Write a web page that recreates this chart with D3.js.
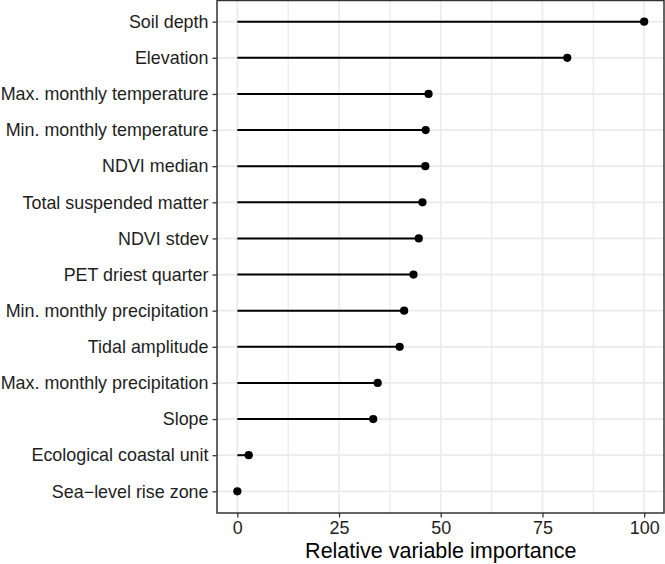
<!DOCTYPE html>
<html>
<head>
<meta charset="utf-8">
<script src="https://cdn.jsdelivr.net/npm/d3@7"></script>
<style>
  html, body { margin: 0; padding: 0; background: #fff; }
  svg { display: block; font-family: "Liberation Sans", Arial, Helvetica, sans-serif; }
</style>
</head>
<body>
<svg id="chart" width="665" height="564"></svg>
<script>
const variables = [
  "Soil depth",
  "Elevation",
  "Max. monthly temperature",
  "Min. monthly temperature",
  "NDVI median",
  "Total suspended matter",
  "NDVI stdev",
  "PET driest quarter",
  "Min. monthly precipitation",
  "Tidal amplitude",
  "Max. monthly precipitation",
  "Slope",
  "Ecological coastal unit",
  "Sea\u2212level rise zone"
];
const importance = [100, 81.1, 47.0, 46.3, 46.2, 45.5, 44.6, 43.3, 41.0, 39.9, 34.5, 33.4, 2.8, 0];
const xTicks = [0, 25, 50, 75, 100];
const xMinor = [12.5, 37.5, 62.5, 87.5];
const xTitle = "Relative variable importance";

const svg = d3.select("#chart");
const panel = { left: 217, right: 664.5, top: 0, bottom: 513 };

const x = d3.scaleLinear().domain([-5, 105]).range([panel.left, panel.right]);
const y = d3.scalePoint().domain(variables).range([panel.top, panel.bottom]).padding(0.6);

const g = svg.append("g");

g.append("rect")
  .attr("x", panel.left).attr("y", panel.top)
  .attr("width", panel.right - panel.left).attr("height", panel.bottom - panel.top)
  .attr("fill", "#ffffff");

g.selectAll(".minor").data(xMinor).enter().append("line")
  .attr("x1", d => x(d)).attr("x2", d => x(d))
  .attr("y1", panel.top).attr("y2", panel.bottom)
  .attr("stroke", "#ebebeb").attr("stroke-width", 1.3);

g.selectAll(".majorx").data(xTicks).enter().append("line")
  .attr("x1", d => x(d)).attr("x2", d => x(d))
  .attr("y1", panel.top).attr("y2", panel.bottom)
  .attr("stroke", "#ebebeb").attr("stroke-width", 1.7);

g.selectAll(".majory").data(variables).enter().append("line")
  .attr("x1", panel.left).attr("x2", panel.right)
  .attr("y1", d => y(d)).attr("y2", d => y(d))
  .attr("stroke", "#ebebeb").attr("stroke-width", 1.7);

const data = variables.map((v, i) => ({ v, val: importance[i] }));
g.selectAll(".seg").data(data).enter().append("line")
  .attr("x1", x(0)).attr("x2", d => x(d.val))
  .attr("y1", d => y(d.v)).attr("y2", d => y(d.v))
  .attr("stroke", "#000").attr("stroke-width", 2);

g.selectAll(".pt").data(data).enter().append("circle")
  .attr("cx", d => x(d.val)).attr("cy", d => y(d.v))
  .attr("r", 4.1).attr("fill", "#000");

g.append("rect")
  .attr("x", panel.left).attr("y", panel.top + 0.5)
  .attr("width", panel.right - panel.left - 0.5).attr("height", panel.bottom - panel.top - 0.5)
  .attr("fill", "none").attr("stroke", "#333333").attr("stroke-width", 1.5);

const xAxis = d3.axisBottom(x).tickValues(xTicks).tickSize(4.5).tickPadding(4).tickFormat(d3.format("d"));
const gx = svg.append("g").attr("transform", `translate(0,${panel.bottom})`).call(xAxis);
gx.select(".domain").remove();
gx.selectAll(".tick line").attr("stroke", "#333333").attr("stroke-width", 1.3);
gx.selectAll(".tick text").attr("fill", "#1e1e1e").style("font-size", "17.9px")
  .style("font-family", "'Liberation Sans', Arial, sans-serif");

const yAxis = d3.axisLeft(y).tickSize(4.5).tickPadding(4);
const gy = svg.append("g").attr("transform", `translate(${panel.left},0)`).call(yAxis);
gy.select(".domain").remove();
gy.selectAll(".tick line").attr("stroke", "#333333").attr("stroke-width", 1.3);
gy.selectAll(".tick text").attr("fill", "#1e1e1e").style("font-size", "17.9px")
  .style("font-family", "'Liberation Sans', Arial, sans-serif");

svg.append("text")
  .attr("x", (panel.left + panel.right) / 2)
  .attr("y", 557.5)
  .attr("text-anchor", "middle")
  .attr("fill", "#000")
  .style("font-size", "21.5px")
  .text(xTitle);
</script>
</body>
</html>
